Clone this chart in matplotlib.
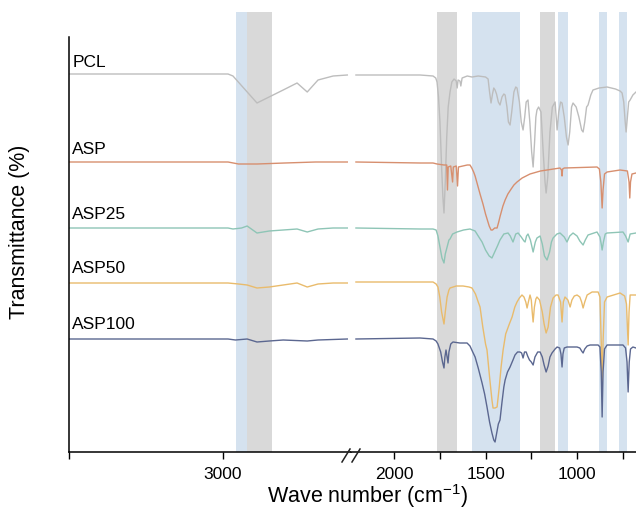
import matplotlib.pyplot as plt
from matplotlib.lines import Line2D

plt.rcParams['font.family'] = ['Liberation Sans', 'DejaVu Sans']
plt.rcParams['mathtext.fontset'] = 'custom'
plt.rcParams['mathtext.rm'] = 'Liberation Sans'

# FTIR spectra, stacked with offsets (arbitrary transmittance units)
samples = ['PCL', 'ASP', 'ASP25', 'ASP50', 'ASP100']
colors = ['#bdbdbd', '#d78f6f', '#8ec5b6', '#e9bb6c', '#5b6790']
label_y = [382, 295, 230, 176, 120]

# high wavenumber segment (3500 - 2600 cm-1)
hi_wn = {
    'PCL': [3500, 2984, 2968, 2890, 2805, 2760, 2727, 2692, 2643, 2597],
    'ASP': [3500, 2984, 2950, 2890, 2800, 2700, 2597],
    'ASP25': [3500, 2984, 2968, 2940, 2922, 2890, 2850, 2805, 2760, 2727, 2692, 2643, 2597],
    'ASP50': [3500, 2984, 2950, 2922, 2890, 2850, 2805, 2760, 2727, 2692, 2643, 2597],
    'ASP100': [3500, 2984, 2960, 2922, 2890, 2850, 2805, 2727, 2692, 2597],
}
hi_t = {
    'PCL': [378, 378, 376, 349, 362, 369, 360, 372, 376, 377],
    'ASP': [290, 290, 288, 288, 289, 290, 290],
    'ASP25': [224, 224, 223, 224, 226, 219, 221, 222, 223, 220, 223, 224, 224],
    'ASP50': [169, 169, 168, 167, 164, 165, 167, 169, 165, 168, 169, 169],
    'ASP100': [113, 113, 112, 113, 110, 111, 112, 111, 112, 113],
}

# low wavenumber segment (2210 - 680 cm-1): (wavenumber, value) pairs
lo_pts = {
    'PCL': [(2208, 377), (1858, 377), (1787, 376), (1772, 374), (1765, 370), (1757, 355),
            (1749, 330), (1740, 285), (1733, 255), (1727, 239), (1720, 270), (1712, 315),
            (1704, 345), (1694, 360), (1684, 370), (1672, 373), (1660, 371), (1655, 364),
            (1650, 372), (1640, 371), (1635, 366), (1628, 374), (1600, 376), (1574, 375),
            (1540, 376), (1500, 375), (1486, 373), (1478, 360), (1470, 349), (1462, 358),
            (1455, 364), (1448, 362), (1440, 358), (1430, 350), (1421, 347), (1410, 355),
            (1400, 358), (1393, 357), (1383, 345), (1375, 330), (1366, 327), (1357, 340),
            (1345, 360), (1335, 365), (1328, 364), (1315, 350), (1305, 330), (1295, 322),
            (1286, 335), (1278, 350), (1268, 352), (1258, 330), (1248, 300), (1240, 285),
            (1232, 310), (1225, 335), (1219, 342), (1210, 345), (1197, 340), (1185, 300),
            (1175, 270), (1169, 259), (1160, 275), (1148, 320), (1135, 345), (1120, 350),
            (1109, 322), (1100, 340), (1090, 350), (1082, 349), (1070, 335), (1058, 315),
            (1049, 307), (1040, 320), (1030, 345), (1022, 349), (1005, 345), (990, 335),
            (975, 322), (967, 320), (958, 330), (948, 345), (940, 347), (925, 357),
            (913, 362), (880, 364), (836, 365), (790, 363), (765, 361), (754, 359),
            (745, 350), (737, 330), (732, 320), (725, 335), (718, 350), (710, 352),
            (695, 357), (678, 360)],
    'ASP': [(2208, 290), (1858, 289), (1787, 289), (1765, 288), (1727, 287), (1712, 287),
            (1708, 262), (1704, 285), (1690, 286), (1680, 270), (1676, 285), (1660, 286),
            (1653, 266), (1648, 285), (1600, 287), (1585, 287), (1575, 284), (1565, 280),
            (1557, 276), (1545, 268), (1530, 258), (1514, 248), (1500, 238), (1490, 232),
            (1480, 226), (1470, 222), (1462, 222), (1450, 224), (1437, 224), (1428, 230),
            (1420, 236), (1405, 246), (1393, 252), (1378, 258), (1360, 263), (1345, 267),
            (1328, 270), (1300, 274), (1257, 278), (1200, 281), (1164, 282), (1093, 284),
            (1085, 282), (1082, 276), (1079, 283), (1070, 284), (891, 285), (878, 283),
            (870, 270), (863, 244), (858, 262), (850, 278), (836, 280), (765, 282),
            (725, 281), (716, 270), (712, 254), (708, 270), (700, 278), (678, 279)],
    'ASP25': [(2208, 224), (1858, 223), (1787, 223), (1770, 222), (1760, 216), (1749, 205),
              (1738, 194), (1727, 189), (1720, 198), (1710, 205), (1700, 212), (1694, 213),
              (1680, 218), (1656, 220), (1620, 222), (1585, 223), (1557, 221), (1540, 216),
              (1519, 210), (1500, 202), (1480, 196), (1465, 194), (1450, 200), (1435, 206),
              (1421, 212), (1400, 218), (1377, 219), (1365, 216), (1350, 210), (1335, 218),
              (1322, 219), (1305, 215), (1290, 211), (1284, 210), (1276, 216), (1268, 218),
              (1255, 212), (1240, 200), (1228, 210), (1219, 214), (1202, 216), (1190, 208),
              (1178, 196), (1164, 192), (1150, 200), (1140, 210), (1131, 214), (1110, 218),
              (1093, 219), (1070, 215), (1055, 210), (1040, 216), (1022, 219), (1000, 216),
              (985, 211), (967, 207), (955, 212), (940, 217), (891, 220), (875, 215),
              (868, 208), (863, 202), (856, 210), (846, 218), (836, 219), (749, 220),
              (735, 216), (721, 210), (710, 218), (678, 219)],
    'ASP50': [(2208, 170), (1858, 170), (1787, 170), (1770, 168), (1760, 165), (1750, 155),
              (1740, 140), (1727, 128), (1720, 140), (1710, 155), (1700, 162), (1694, 164),
              (1660, 166), (1623, 166), (1590, 165), (1574, 164), (1555, 158), (1540, 150),
              (1530, 145), (1515, 125), (1500, 108), (1492, 102), (1478, 75), (1465, 52),
              (1459, 44), (1448, 44), (1437, 45), (1425, 65), (1415, 85), (1404, 102),
              (1390, 118), (1370, 128), (1355, 135), (1340, 145), (1328, 150), (1315, 154),
              (1301, 157), (1290, 155), (1280, 150), (1273, 144), (1266, 150), (1257, 157),
              (1250, 152), (1245, 140), (1240, 130), (1233, 145), (1225, 153), (1219, 155),
              (1205, 152), (1190, 140), (1180, 128), (1169, 119), (1158, 125), (1145, 145),
              (1131, 154), (1115, 157), (1104, 157), (1090, 150), (1082, 130), (1075, 150),
              (1066, 155), (1050, 152), (1038, 145), (1028, 152), (1015, 156), (1000, 157),
              (985, 155), (975, 150), (967, 144), (958, 150), (945, 157), (918, 160),
              (885, 160), (875, 155), (868, 110), (863, 65), (858, 110), (850, 150),
              (836, 155), (765, 159), (740, 156), (730, 148), (721, 107), (716, 140),
              (710, 157), (678, 157)],
    'ASP100': [(2208, 113), (1858, 114), (1787, 113), (1770, 111), (1760, 108), (1745, 100),
               (1735, 90), (1727, 84), (1722, 95), (1716, 102), (1710, 95), (1705, 89),
               (1700, 100), (1690, 108), (1678, 110), (1640, 109), (1601, 109), (1585, 106),
               (1570, 100), (1557, 95), (1540, 84), (1519, 69), (1505, 58), (1492, 45),
               (1478, 30), (1465, 19), (1455, 12), (1448, 10), (1440, 18), (1430, 28),
               (1421, 32), (1410, 50), (1400, 65), (1393, 72), (1380, 80), (1366, 85),
               (1350, 92), (1339, 97), (1325, 100), (1312, 100), (1303, 99), (1295, 94),
               (1287, 100), (1278, 100), (1270, 96), (1260, 92), (1250, 90), (1240, 87),
               (1230, 95), (1215, 100), (1202, 100), (1190, 95), (1180, 87), (1169, 80),
               (1158, 86), (1148, 95), (1137, 99), (1120, 103), (1109, 105), (1095, 104),
               (1088, 98), (1082, 85), (1077, 98), (1070, 104), (1055, 105), (1000, 105),
               (985, 104), (975, 101), (967, 99), (958, 103), (945, 106), (929, 107),
               (885, 107), (875, 105), (868, 80), (863, 35), (858, 80), (850, 103),
               (836, 107), (749, 107), (735, 104), (727, 90), (721, 60), (715, 90),
               (708, 103), (695, 105), (678, 104)],
}

# highlighted absorption regions (cm-1)
blue_bands = [(2958, 2922), (1574, 1311), (1104, 1049), (880, 836), (771, 727)]
gray_bands = [(2922, 2841), (1765, 1656), (1202, 1120)]

W, H = 636, 511
fig = plt.figure(figsize=(W / 100, H / 100), dpi=100)
ax1 = fig.add_axes([69 / W, 59 / H, 282 / W, 440 / H])
ax2 = fig.add_axes([351 / W, 59 / H, 285 / W, 440 / H])

for ax in (ax1, ax2):
    for lo, hi in blue_bands:
        ax.axvspan(lo, hi, color='#d5e2ef', lw=0, zorder=0)
    for lo, hi in gray_bands:
        ax.axvspan(lo, hi, color='#d9d9d9', lw=0, zorder=0)
    ax.set_ylim(0, 440)
    ax.set_yticks([])
    ax.spines['top'].set_visible(False)
    ax.spines['right'].set_visible(False)
    ax.spines['bottom'].set_linewidth(1.1)
    ax.tick_params(axis='x', which='both', length=5, width=1, labelsize=12.5, pad=6)

for s, c in zip(samples, colors):
    ax1.plot(hi_wn[s], hi_t[s], color=c, lw=1.0)
    wn, t = zip(*lo_pts[s])
    ax2.plot(wn, t, color=c, lw=1.0)

ax1.set_xlim(3500, 2585)
ax1.set_xticks([3000])
ax1.set_xticks([3500], minor=True)
ax1.spines['left'].set_bounds(0, 415)
ax1.spines['left'].set_linewidth(1.1)

ax2.set_xlim(2235, 678)
ax2.set_xticks([2000, 1500, 1000])
ax2.set_xticks([1750, 1250, 750], minor=True)
ax2.spines['left'].set_visible(False)

for s, yl in zip(samples, label_y):
    ax1.text(0.012, yl, s, transform=ax1.get_yaxis_transform(), fontsize=12.5,
             va='bottom', ha='left')

ax1.set_ylabel('Transmittance (%)', fontsize=15.5, labelpad=28)
fig.text(368 / W, 1 - 496 / H, 'Wave number (cm$^{\\mathregular{-1}}$)', fontsize=15.5,
         ha='center', va='center')

# axis break marks
for x0 in (342, 352):
    fig.add_artist(Line2D([x0 / W, (x0 + 8) / W], [1 - 462 / H, 1 - 449 / H],
                          color='#222222', lw=1.1))

fig.savefig('out.png', dpi=100)
